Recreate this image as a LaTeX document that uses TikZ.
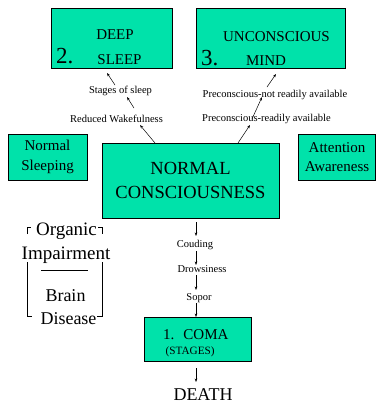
\documentclass[tikz,border=0pt]{standalone}
\usepackage{fontspec}
\setmainfont{Liberation Serif}
\usetikzlibrary{arrows.meta}
\definecolor{boxgreen}{RGB}{0,226,170}

\begin{document}
\begin{tikzpicture}[x=1pt,y=-1pt,
  box/.style={draw=black,fill=boxgreen,line width=0.9pt,inner sep=0pt},
  lbl/.style={font=\fontsize{10.5}{12}\selectfont,inner sep=0pt,anchor=base},
  mid/.style={font=\fontsize{15}{19}\selectfont,inner sep=0pt,anchor=base},
  big/.style={font=\fontsize{18.5}{24}\selectfont,inner sep=0pt},
  num/.style={font=\fontsize{23}{26}\selectfont,inner sep=0pt,anchor=base west},
  arr/.style={-{Stealth[length=3.5pt,width=2.6pt]},line width=0.5pt}]

  \useasboundingbox (0,0) rectangle (376,405);

  % Boxes
  \node[box,minimum width=121pt,minimum height=60pt] (deep) at (111.5,38) {};
  \node[box,minimum width=149pt,minimum height=60pt] (uncon) at (270.5,38) {};
  \node[box,minimum width=79pt,minimum height=46pt,align=center,
        font=\fontsize{15}{20}\selectfont] (sleeping) at (47.5,157) {Normal\\Sleeping};
  \node[box,minimum width=77pt,minimum height=46pt,align=center,
        font=\fontsize{15}{19}\selectfont] (attention) at (337,157) {Attention\\Awareness};
  \node[box,big,minimum width=177pt,minimum height=75pt,align=center] (nc) at (190.5,180.5)
    {NORMAL\\CONSCIOUSNESS};
  \node[box,minimum width=107pt,minimum height=44pt] (coma) at (197.5,339) {};

  % Texts inside the upper boxes
  \node[mid] (deeptxt) at (115,39) {DEEP};
  \node[mid] (sleeptxt) at (119.5,64) {SLEEP};
  \node[num] (two) at (56,63) {2.};
  \node[mid] (unctxt) at (276.5,41) {UNCONSCIOUS};
  \node[mid] (mindtxt) at (266,65) {MIND};
  \node[num] (three) at (201,65) {3.};

  % Texts inside the coma box
  \node[mid,anchor=base west] (comatxt) at (163,339) {1.\hspace{0.6em}COMA};
  \node[font=\fontsize{11.2}{13}\selectfont,inner sep=0pt,anchor=base west] (stages) at (165.5,354) {(STAGES)};
  \node[font=\fontsize{18}{22}\selectfont,inner sep=0pt,anchor=base] (death) at (203,400.5) {DEATH};

  % Small labels on the way up
  \node[lbl] (stagesleep) at (120.5,93) {Stages of sleep};
  \node[lbl] (reduced) at (116.5,122) {Reduced Wakefulness};
  \node[lbl] (prenot) at (275,97) {Preconscious-not readily available};
  \node[lbl] (preready) at (266.5,121) {Preconscious-readily available};

  % Small labels on the way down
  \node[lbl] (couding) at (195,247.5) {Couding};
  \node[lbl] (drowsy) at (202,272.5) {Drowsiness};
  \node[lbl] (sopor) at (199,300) {Sopor};

  % Arrows up (left and right chains)
  \foreach \n/\xa/\ya/\xb/\yb in {l1/155/143/140/125, l2/134/108/127/97, l3/115/85/107/73,
                                  r1/238/143/250/125, r2/252/119/262/97, r3/267/87/276/74}{
    \coordinate (\n a) at (\xa,\ya);
    \coordinate (\n b) at (\xb,\yb);
    \draw[arr] (\n a) -- (\n b);
  }

  % Arrows down to death
  \foreach \n/\ya/\yb in {d1/222/236, d2/251/265, d3/275/290, d4/303/317, d5/368/382}{
    \coordinate (\n a) at (196,\ya);
    \coordinate (\n b) at (196,\yb);
    \draw[arr] (\n a) -- (\n b);
  }

  % Organic impairment / brain disease bracket
  \node[font=\fontsize{19}{22}\selectfont,inner sep=0pt,anchor=base] (organic) at (66.5,235) {Organic};
  \node[font=\fontsize{19}{22}\selectfont,inner sep=0pt,anchor=base] (impair) at (66,259.5) {Impairment};
  \node[font=\fontsize{18}{22}\selectfont,inner sep=0pt,anchor=base] (brain) at (65.5,301) {Brain};
  \node[font=\fontsize{18}{22}\selectfont,inner sep=0pt,anchor=base] (disease) at (68.5,324) {Disease};
  \draw[line width=0.6pt] (27,234) -- (27,227.5) -- (31,227.5);
  \draw[line width=0.6pt] (98,227.5) -- (102,227.5) -- (102,234);
  \draw[line width=0.6pt] (27,262) -- (27,316) -- (32,316);
  \draw[line width=0.6pt] (102,262) -- (102,316) -- (97,316);
  \draw[line width=0.6pt] (41,270) -- (88,270);

\end{tikzpicture}
\end{document}
